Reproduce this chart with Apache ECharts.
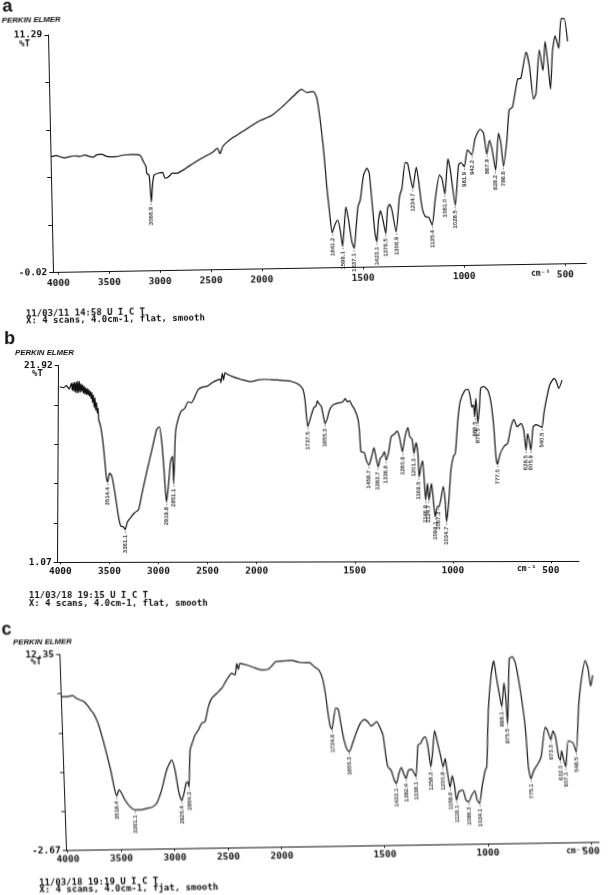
<!DOCTYPE html>
<html>
<head>
<meta charset="utf-8">
<script src="https://cdn.jsdelivr.net/npm/echarts@6/dist/echarts.min.js"></script>
<style>
html, body { margin: 0; padding: 0; background: #fff; width: 614px; height: 895px; overflow: hidden; }
.panel { position: absolute; left: 0; top: 0; width: 614px; height: 895px; filter: blur(0.3px); }
</style>
</head>
<body>
<div class="panel" id="chartA" style="transform-origin: 53.3px 272.7px; transform: matrix(1,-0.0169,0.021,1,0,0)"></div>
<div class="panel" id="chartB" style="transform-origin: 57.7px 562.3px; transform: matrix(1,-0.002,-0.005,1,0,0)"></div>
<div class="panel" id="chartC" style="transform-origin: 66.7px 850.7px; transform: matrix(1,-0.0153,0.034,1,0,0)"></div>
<script>
// wavenumber (cm-1), %T
const curveA = [[4042,5.50],[3992,5.55],[3960,5.49],[3911,5.43],[3861,5.49],[3812,5.52],[3763,5.49],[3713,5.55],[3681,5.49],[3632,5.44],[3599,5.55],[3549,5.57],[3501,5.47],[3419,5.44],[3337,5.52],[3254,5.54],[3173,5.50],[3141,5.19],[3116,4.95],[3111,4.63],[3088,4.54],[3078,3.84],[3071,3.27],[3054,4.15],[3039,4.54],[2997,4.63],[2954,4.66],[2932,4.38],[2899,4.44],[2855,4.62],[2816,4.61],[2766,4.72],[2716,4.87],[2650,5.07],[2583,5.26],[2517,5.43],[2451,5.61],[2411,5.77],[2386,5.50],[2358,5.84],[2318,6.04],[2251,6.28],[2185,6.47],[2085,6.77],[2000,7.02],
  [1935,7.28],[1877,7.73],[1827,8.17],[1785,8.50],[1759,8.35],[1726,8.38],[1710,8.07],[1696,7.03],[1682,5.60],[1670,3.85],[1656,2.27],[1648,1.66],[1632,2.07],[1619,2.25],[1608,1.77],[1598,1.01],[1588,1.93],[1578,2.88],[1566,2.25],[1552,1.22],[1541,0.90],[1529,1.92],[1518,2.87],[1506,3.19],[1487,4.38],[1470,4.69],[1459,4.46],[1449,3.19],[1438,1.76],[1428,1.19],[1418,2.22],[1407,2.66],[1393,2.06],[1383,1.58],[1372,2.77],[1362,2.96],[1351,2.69],[1332,1.65],[1312,3.31],[1299,3.71],[1280,4.93],[1269,4.90],[1257,4.27],[1245,3.71],[1226,4.71],[1216,4.09],[1202,2.82],[1187,2.35],[1170,2.31],[1153,1.95],[1136,3.12],[1112,4.31],[1100,4.15],[1087,3.41],[1069,5.07],[1058,4.55],[1037,2.87],[1017,4.77],[1005,4.89],[989,4.69],[971,5.49],[950,5.25],[932,6.03],[906,6.46],[890,6.27],[876,5.28],[861,5.92],[849,5.47],[834,4.51],[816,6.25],[805,5.77],[795,4.69],[775,5.93],[761,7.36],[744,7.49],[716,8.81],[700,8.85],[671,10.09],[656,9.41],[639,7.84],[626,8.12],[606,10.19],[590,9.20],[576,10.58],[565,9.55],[554,8.31],[541,10.09],[526,10.85],[509,10.25],[495,11.65],[480,11.65],[465,10.57]];
const peaksA = [[3071,3.27,'3066.9'],[1648,1.66,'1641.2'],[1598,1.01,'1596.1'],[1541,0.90,'1537.1'],[1428,1.19,'1423.1'],[1383,1.58,'1376.5'],[1332,1.65,'1306.9'],[1245,3.71,'1234.7'],[1153,1.95,'1135.4'],[1087,3.41,'1081.0'],[1037,2.87,'1028.5'],[989,4.69,'981.9'],[950,5.25,'942.2'],[876,5.28,'867.9'],[834,4.51,'828.2'],[795,4.69,'786.6']];
const yTicksA = [-0.02,2.242,4.504,6.766,9.028,11.29];

const curveB = [[4015,19.69],[3978,19.59],[3947,19.80],[3920,19.44],[3896,20.05],[3888,19.30],[3880,20.10],[3872,19.20],[3864,20.15],[3856,19.10],[3848,20.20],[3840,19.00],[3832,20.30],[3824,19.05],[3816,20.25],[3808,19.10],[3800,20.00],[3792,19.20],[3784,19.90],[3776,19.00],[3768,19.75],[3760,18.90],[3752,19.60],[3744,18.85],[3736,19.50],[3728,18.80],[3720,19.40],[3712,18.70],[3704,19.20],[3696,18.40],[3688,19.10],[3680,18.00],[3672,18.80],[3664,17.50],[3656,18.50],[3648,17.20],[3640,18.00],[3632,16.90],[3624,17.40],[3617,16.23],[3597,15.49],[3577,14.18],[3556,12.24],[3536,10.12],[3522,9.59],[3502,10.54],[3478,10.12],[3444,8.17],[3410,5.88],[3386,4.89],[3359,4.82],[3342,4.53],[3318,5.35],[3284,5.82],[3247,6.30],[3206,6.65],[3172,8.35],[3121,10.82],[3070,13.12],[3026,15.13],[2999,15.42],[2975,14.00],[2951,11.18],[2934,8.70],[2921,7.47],[2904,9.06],[2883,11.71],[2863,12.31],[2849,9.41],[2836,14.36],[2826,15.42],[2781,17.01],[2741,17.36],[2707,18.07],[2673,17.96],[2646,18.42],[2605,19.37],[2561,19.62],[2510,19.73],[2459,20.12],[2408,20.36],[2381,20.47],[2374,20.08],[2360,21.07],[2347,20.36],[2333,21.14],[2306,20.96],[2238,20.65],[2170,20.43],[2068,20.19],[2000,20.36],
  [1966,20.43],[1932,20.40],[1898,20.36],[1864,20.29],[1830,20.22],[1796,19.94],[1770,19.41],[1758,18.24],[1743,15.42],[1735,15.91],[1723,16.80],[1712,17.43],[1702,17.57],[1695,18.14],[1685,17.79],[1675,17.57],[1663,16.44],[1655,15.73],[1644,16.26],[1633,17.15],[1616,17.68],[1599,17.85],[1582,17.92],[1565,18.03],[1553,18.38],[1543,18.03],[1531,18.14],[1519,17.68],[1505,17.22],[1488,16.26],[1480,15.03],[1471,12.73],[1454,12.63],[1444,11.85],[1430,11.32],[1417,12.20],[1405,13.15],[1395,12.20],[1383,11.14],[1373,12.02],[1362,12.27],[1352,12.73],[1342,11.85],[1330,12.73],[1318,14.32],[1308,14.50],[1298,14.67],[1288,14.92],[1276,14.32],[1260,12.73],[1247,14.32],[1233,15.27],[1223,14.32],[1211,14.04],[1201,12.55],[1191,13.68],[1181,12.55],[1174,10.08],[1165,11.14],[1157,11.78],[1148,9.73],[1140,7.61],[1131,9.37],[1123,7.61],[1111,9.37],[1101,7.61],[1091,5.84],[1080,6.90],[1072,6.90],[1063,7.61],[1051,9.02],[1041,7.61],[1033,5.31],[1023,7.25],[1012,10.79],[1000,12.20],[990,12.55],[978,16.09],[967,18.03],[944,19.20],[927,19.34],[916,18.56],[907,17.43],[899,17.68],[893,16.44],[887,18.38],[876,15.73],[868,17.50],[863,19.44],[848,19.62],[826,19.20],[809,17.82],[795,15.35],[783,12.17],[775,11.39],[761,12.52],[741,13.30],[724,13.58],[707,15.35],[693,16.12],[676,15.35],[656,15.70],[642,14.99],[630,12.87],[622,14.64],[613,13.76],[605,12.87],[594,15.35],[581,15.56],[562,15.42],[549,15.27],[540,16.76],[528,18.17],[511,19.76],[489,20.47],[477,20.12],[465,19.41],[448,20.29]];
const peaksB = [[3522,9.59,'3514.4'],[3342,4.53,'3361.1'],[2921,7.47,'2919.8'],[2849,9.41,'2851.1'],[1743,15.42,'1737.5'],[1655,15.73,'1655.3'],[1430,11.32,'1458.7'],[1383,11.14,'1383.7'],[1342,11.85,'1336.6'],[1260,12.73,'1260.9'],[1201,12.55,'1201.3'],[1174,10.08,'1169.5'],[1140,7.61,'1146.9'],[1123,7.61,'1124.7'],[1091,5.84,'1094.1'],[1072,6.90,'1067.3'],[1033,5.31,'1034.7'],[893,16.44,'886.5'],[876,15.73,'876.5'],[775,11.39,'777.0'],[630,12.87,'628.5'],[605,12.87,'605.9'],[549,15.27,'540.5']];
const yTicksB = [1.07,5.24,9.41,13.58,17.75,21.92];

const curveC = [[4007,9.12],[3976,9.12],[3945,9.12],[3904,9.19],[3874,8.99],[3837,8.84],[3800,8.71],[3761,8.33],[3741,8.07],[3717,7.82],[3682,7.18],[3654,6.39],[3627,5.49],[3600,4.47],[3573,3.45],[3547,2.18],[3525,1.46],[3501,1.92],[3477,1.65],[3448,1.13],[3404,0.62],[3358,0.37],[3312,0.37],[3249,0.47],[3202,0.54],[3154,0.85],[3103,1.87],[3050,3.39],[3000,4.14],[2972,3.38],[2947,1.84],[2919,1.03],[2895,1.59],[2873,2.36],[2857,2.47],[2847,2.08],[2825,4.88],[2798,5.52],[2774,6.03],[2741,6.41],[2708,6.92],[2676,7.05],[2640,8.18],[2607,8.81],[2558,9.19],[2510,9.57],[2461,10.21],[2412,10.71],[2381,10.57],[2362,11.46],[2348,11.00],[2331,11.46],[2269,11.33],[2208,11.14],[2131,10.93],[2068,10.98],[2000,11.55],
  [1960,11.59],[1922,11.62],[1884,11.46],[1851,11.44],[1835,11.44],[1813,11.13],[1790,10.85],[1773,10.14],[1763,9.07],[1753,7.53],[1745,6.51],[1737,6.31],[1728,7.02],[1715,7.92],[1703,7.84],[1693,6.74],[1680,5.47],[1666,4.70],[1656,4.57],[1639,5.21],[1617,6.11],[1597,6.77],[1578,7.02],[1563,6.85],[1546,6.51],[1532,6.67],[1519,6.85],[1505,6.44],[1490,5.80],[1481,4.40],[1472,3.38],[1457,3.12],[1443,2.36],[1433,2.10],[1419,2.87],[1407,3.31],[1396,2.84],[1386,2.46],[1372,3.10],[1356,3.15],[1345,2.84],[1337,2.59],[1322,5.01],[1309,5.12],[1297,5.49],[1286,5.62],[1275,4.98],[1263,3.32],[1253,4.35],[1239,6.08],[1228,5.24],[1212,3.95],[1204,3.31],[1192,3.94],[1186,3.17],[1177,2.02],[1173,1.77],[1161,2.61],[1151,1.77],[1144,0.75],[1131,1.39],[1112,1.50],[1098,0.72],[1086,0.60],[1069,1.11],[1054,1.44],[1044,0.72],[1033,0.47],[1018,1.74],[1000,2.99],[992,3.25],[975,7.59],[957,10.14],[941,11.36],[931,10.14],[921,8.99],[909,7.84],[895,9.66],[888,8.33],[884,6.54],[865,11.51],[850,11.64],[836,11.13],[817,9.09],[799,6.27],[790,3.20],[780,2.30],[764,2.94],[743,3.45],[727,3.96],[702,6.21],[692,5.98],[677,5.26],[665,5.93],[654,5.47],[642,3.94],[634,3.68],[627,4.40],[619,3.81],[609,3.17],[593,5.15],[570,4.98],[556,4.29],[537,7.74],[521,9.65],[498,11.26],[485,10.66],[475,9.30],[463,10.14]];
const peaksC = [[3525,1.46,'3518.4'],[3358,0.37,'3361.1'],[2919,1.03,'2925.4'],[2847,2.08,'2854.3'],[1737,6.31,'1734.6'],[1656,4.57,'1655.3'],[1433,2.10,'1433.1'],[1386,2.46,'1382.4'],[1337,2.59,'1338.1'],[1263,3.32,'1258.3'],[1204,3.31,'1200.8'],[1173,1.77,'1158.6'],[1144,0.75,'1119.1'],[1086,0.60,'1086.3'],[1033,0.47,'1034.1'],[909,7.84,'898.1'],[884,6.54,'875.5'],[780,2.30,'775.1'],[677,5.26,'673.3'],[634,3.68,'632.0'],[609,3.17,'607.1'],[556,4.29,'548.5']];
const yTicksC = [-2.67,0.334,3.338,6.342,9.346,12.35];

const xTicksHigh = [4000,3500,3000,2500,2000];
const xTicksLow = [1500,1000,500];

const INK = '#111';
const MONO = '"DejaVu Sans Mono", monospace';
const axisText = { color: INK, fontFamily: MONO, fontWeight: 'bold', fontSize: 9.5 };

function note(text, x, y, extra) {
  return { type: 'text', x: x, y: y, silent: true,
    style: Object.assign({ text: text, fill: INK, font: 'bold 9px ' + MONO, textVerticalAlign: 'middle' }, extra) };
}

function makeOption(p) {
  const yMin = p.yTicks[0];
  const yMax = p.yTicks[p.yTicks.length - 1];
  const yLabels = [yMin, yMax];
  const curveStyle = { color: INK, width: 1.2 };
  const peakLabel = {
    show: true, position: 'bottom', distance: 1, rotate: 90, align: 'right', verticalAlign: 'middle',
    formatter: '{b} -', color: '#000', fontSize: 6, fontWeight: 'bold',
    fontFamily: '"Liberation Sans Narrow", "Liberation Sans", sans-serif'
  };
  const toPeak = a => ({ value: [a[0], a[1]], name: a[2] });
  const xLine = { onZero: false, lineStyle: { color: INK } };
  const xLabel = { margin: p.labelGap, formatter: v => String(v) };
  return {
    animation: false,
    grid: [
      { left: p.left, top: p.top, width: p.split - p.left, height: p.bottom - p.top },
      { left: p.split, top: p.top, width: p.end - p.split, height: p.bottom - p.top }
    ],
    xAxis: [
      { gridIndex: 0, type: 'value', inverse: true, min: 2000, max: p.xMax, splitLine: { show: false },
        axisLine: xLine,
        axisTick: { length: 2, customValues: xTicksHigh, lineStyle: { color: INK } },
        axisLabel: Object.assign({ customValues: xTicksHigh }, xLabel, axisText) },
      { gridIndex: 1, type: 'value', inverse: true, min: p.xMin, max: 2000, splitLine: { show: false },
        axisLine: xLine,
        axisTick: { length: 2, customValues: xTicksLow, lineStyle: { color: INK } },
        axisLabel: Object.assign({ customValues: xTicksLow }, xLabel, axisText) }
    ],
    yAxis: [
      { gridIndex: 0, type: 'value', min: yMin, max: yMax, splitLine: { show: false },
        axisLine: { show: true, onZero: false, lineStyle: { color: INK } },
        axisTick: { show: true, length: 4, customValues: p.yTicks, lineStyle: { color: INK } },
        axisLabel: Object.assign({ margin: 6, customValues: yLabels, formatter: v => v.toFixed(2) }, axisText) },
      { gridIndex: 1, type: 'value', min: yMin, max: yMax, show: false, splitLine: { show: false } }
    ],
    series: [
      { type: 'line', xAxisIndex: 0, yAxisIndex: 0, data: p.curve.filter(d => d[0] >= 2000), showSymbol: false, symbol: 'none', smooth: 0.2, clip: false, lineStyle: curveStyle },
      { type: 'line', xAxisIndex: 1, yAxisIndex: 1, data: p.curve.filter(d => d[0] <= 2000), showSymbol: false, symbol: 'none', smooth: 0.2, clip: false, lineStyle: curveStyle },
      { type: 'scatter', xAxisIndex: 0, yAxisIndex: 0, symbolSize: 1, clip: false, itemStyle: { color: INK }, label: peakLabel, data: p.peaks.filter(d => d[0] >= 2000).map(toPeak) },
      { type: 'scatter', xAxisIndex: 1, yAxisIndex: 1, symbolSize: 1, clip: false, itemStyle: { color: INK }, label: peakLabel, data: p.peaks.filter(d => d[0] < 2000).map(toPeak) }
    ],
    graphic: p.notes
  };
}

const brandFont = { font: 'italic bold 7.8px "Liberation Sans", sans-serif' };
const letterFont = { font: 'bold 18px "Liberation Sans", sans-serif' };
const unitFont = { font: 'bold 8px ' + MONO };

const panels = [
  { id: 'chartA', curve: curveA, peaks: peaksA, yTicks: yTicksA, left: 53.3, split: 261.8, end: 586.3, top: 35, bottom: 272.7, xMax: 4049, xMin: 396, labelGap: 6,
    notes: [
      note('a', 8, 6, letterFont),
      note('PERKIN ELMER', 7, 20, brandFont),
      note('%T', 24, 44),
      note('cm\u207b\u00b9', 531, 282, unitFont),
      note('11/03/11 14:58 U I C T', 25, 313.5),
      note('X: 4 scans, 4.0cm-1, flat, smooth', 25, 320.5)
    ] },
  { id: 'chartB', curve: curveB, peaks: peaksB, yTicks: yTicksB, left: 57.7, split: 256.7, end: 579, top: 365.7, bottom: 562.3, xMax: 4027, xMin: 357, labelGap: 4,
    notes: [
      note('b', 3, 339, letterFont),
      note('PERKIN ELMER', 14, 352.5, brandFont),
      note('%T', 31, 373.5),
      note('cm\u207b\u00b9', 517, 569.5, unitFont),
      note('11/03/18 19:15 U I C T', 29, 596),
      note('X: 4 scans, 4.0cm-1, flat, smooth', 29, 603.5)
    ] },
  { id: 'chartC', curve: curveC, peaks: peaksC, yTicks: yTicksC, left: 66.7, split: 281.7, end: 611.3, top: 654.4, bottom: 850.7, xMax: 4009, xMin: 460, labelGap: 4,
    notes: [
      note('c', 9, 629, letterFont),
      note('PERKIN ELMER', 20, 642, brandFont),
      note('%T', 37, 662),
      note('cm\u207b\u00b9', 566, 859, unitFont),
      note('11/03/18 19:19 U I C T', 38, 882.5),
      note('X: 4 scans, 4.0cm-1, fjat, smooth', 38, 890)
    ] }
];

panels.forEach(p => {
  const chart = echarts.init(document.getElementById(p.id));
  chart.setOption(makeOption(p));
});
</script>
</body>
</html>
